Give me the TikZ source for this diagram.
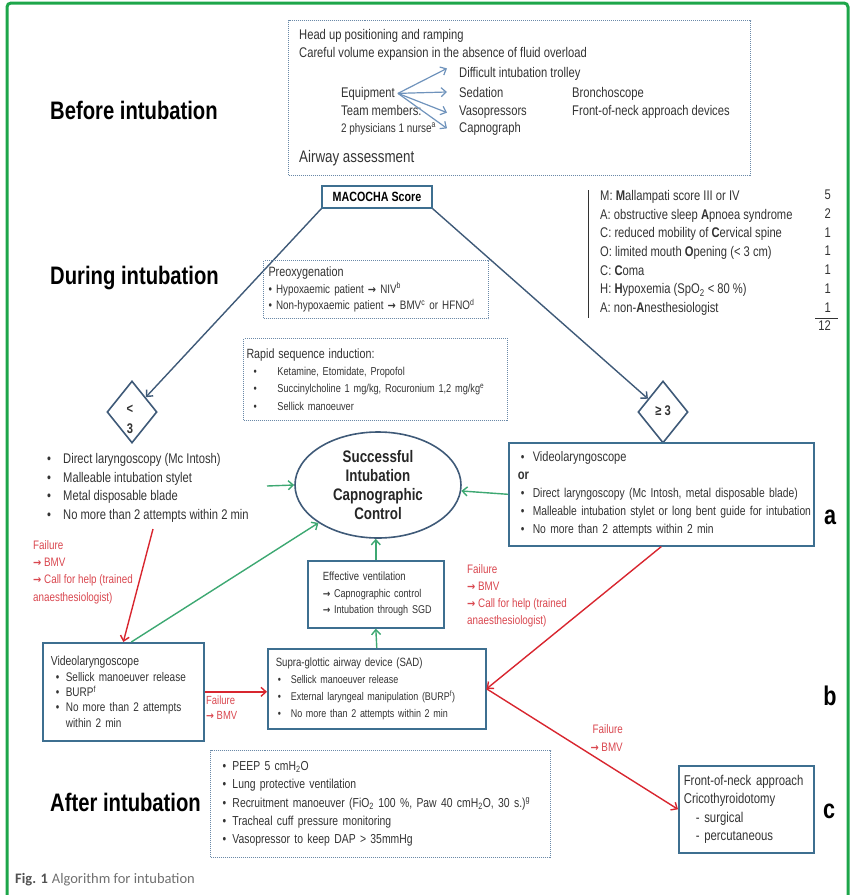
\documentclass[tikz,border=0pt]{standalone}
\usepackage{fontspec}
\usepackage{graphicx}
\setmainfont{Liberation Sans}[FakeStretch=0.8]
\newfontfamily\capfont{Carlito}
\newfontfamily\arrowfont{DejaVu Sans}
\usetikzlibrary{arrows.meta,shapes.geometric}
\definecolor{ink}{HTML}{333333}
\definecolor{framegreen}{HTML}{1DA64A}
\definecolor{boxblue}{HTML}{3E6F90}
\definecolor{dotblue}{HTML}{6A89A8}
\definecolor{equipblue}{HTML}{6F93BC}
\definecolor{okgreen}{HTML}{3DA872}
\definecolor{failred}{HTML}{D8262F}
\definecolor{failtxt}{HTML}{D9474F}
\definecolor{slate}{HTML}{3F5A78}
\newcommand\fsz[2]{\fontsize{#1}{#2}\selectfont}
\newcommand\blt[1]{\makebox[#1][l]{\textbullet}}
\newcommand\rarr{{\arrowfont\bfseries\scalebox{0.8}[0.9]{→}}}

\begin{document}
\begin{tikzpicture}[x=1pt,y=-1pt,
  every node/.style={text=ink,inner sep=0pt},
  arrowtip/.style={-{Straight Barb[length=5pt,width=9pt]}},
  solidbox/.style={draw=boxblue,line width=1.6pt,anchor=north west,align=left,inner ysep=0pt},
  dotbox/.style={draw=dotblue,densely dotted,line width=1pt,anchor=north west,align=left,inner ysep=0pt},
  okarrow/.style={arrowtip,draw=okgreen,line width=1.4pt},
  failarrow/.style={arrowtip,draw=failred,line width=1.4pt},
  fail/.style={text=failtxt,anchor=north west,align=left}]
\path[use as bounding box] (0,0) rectangle (852,895);
\draw[framegreen,line width=3pt,rounded corners=4pt] (7,895) -- (7,3) -- (848,3) -- (848,895);

\node[dotbox,minimum width=462pt,minimum height=155pt] (prep) at (288,20) {};
\node[anchor=base west,font=\fsz{14}{15}] (head) at (299,39) {Head up positioning and ramping};
\node[anchor=base west,font=\fsz{14}{15}] (vol) at (299,57) {Careful volume expansion in the absence of fluid overload};
\node[anchor=base west,font=\fsz{14}{15}] (trol) at (459,77) {Difficult intubation trolley};
\node[anchor=base west,font=\fsz{14}{15}] (equip) at (341,97) {Equipment};
\node[anchor=base west,font=\fsz{14}{15}] (sed) at (459,97) {Sedation};
\node[anchor=base west,font=\fsz{14}{15}] (bron) at (572,97) {Bronchoscope};
\node[anchor=base west,font=\fsz{14}{15}] (team) at (341,115) {Team members:};
\node[anchor=base west,font=\fsz{14}{15}] (vaso) at (459,115) {Vasopressors};
\node[anchor=base west,font=\fsz{14}{15}] (devs) at (572,115) {Front-of-neck approach devices};
\node[anchor=base west,font=\fsz{12.4}{15}] (phys) at (341,132) {2 physicians 1 nurse\textsuperscript{a}};
\node[anchor=base west,font=\fsz{14}{15}] (capno) at (459,132) {Capnograph};
\node[anchor=base west,font=\fsz{16.7}{18}] (airway) at (299,162) {Airway assessment};
\draw[arrowtip,draw=equipblue,line width=1.2pt] ([xshift=3pt]equip.east) -- ([xshift=-12pt,yshift=5pt]trol.west);
\draw[arrowtip,draw=equipblue,line width=1.2pt] ([xshift=3pt]equip.east) -- ([xshift=-12pt]sed.west);
\draw[arrowtip,draw=equipblue,line width=1.2pt] ([xshift=3pt]equip.east) -- ([xshift=-12pt,yshift=-1pt]vaso.west);
\draw[arrowtip,draw=equipblue,line width=1.2pt] ([xshift=3pt]equip.east) -- ([xshift=-12pt]capno.west);

\node[anchor=base west,font=\fsz{25.3}{27}\bfseries,text=black] (before) at (50,119) {Before intubation};
\node[anchor=base west,font=\fsz{25.3}{27}\bfseries,text=black] (during) at (50,284) {During intubation};
\node[anchor=base west,font=\fsz{25.3}{27}\bfseries,text=black] (after) at (50,811) {After intubation};

\node[draw=boxblue,line width=1.4pt,minimum width=110pt,minimum height=22pt,font=\fsz{13.4}{15}\bfseries,text=black] (mac) at (377,197) {MACOCHA Score};

\draw[ink,line width=0.8pt] (588,190) -- (588,318);
\node[anchor=north west,align=left,font=\fsz{14}{18.7}] (crit) at (600,190) {M: \textbf{M}allampati score III or IV\\
A: obstructive sleep \textbf{A}pnoea syndrome\\
C: reduced mobility of \textbf{C}ervical spine\\
O: limited mouth \textbf{O}pening (< 3 cm)\\
C: \textbf{C}oma\\
H: \textbf{H}ypoxemia (SpO\textsubscript{2} < 80 \%)\\
A: non-\textbf{A}nesthesiologist};
\node[anchor=north east,align=right,font=\fsz{14}{18.7}] (pts) at (831,190) {5\\2\\1\\1\\1\\1\\1\\12};
\draw[ink,line width=0.8pt] (815,318) -- (838,318);

\node[diamond,draw=slate,line width=1.6pt,minimum width=50pt,minimum height=62pt] (low) at (132,412) {};
\node[align=center,font=\fsz{14}{20}\bfseries] (lowtxt) at (130,419) {<\\3};
\node[diamond,draw=slate,line width=1.6pt,minimum width=50pt,minimum height=62pt] (high) at (663,412) {};
\node[font=\fsz{14}{15}\bfseries] (hightxt) at (663,411) {≥ 3};
\draw[arrowtip,draw=slate,line width=1.4pt] (mac.south west) -- (low);
\draw[arrowtip,draw=slate,line width=1.4pt] (mac.south east) -- (high);

\node[dotbox,minimum height=58pt,inner xsep=5pt,text width=215pt,font=\fsz{12.3}{16.5}] (preox) at (263,260) {{\fsz{13.5}{16.5}Preoxygenation}\\
\mbox{\textbullet{} Hypoxaemic patient \rarr{} NIV\textsuperscript{b}}\\
\mbox{\textbullet{} Non-hypoxaemic patient \rarr{} BMV\textsuperscript{c} or HFNO\textsuperscript{d}}};

\node[dotbox,minimum height=82pt,inner xsep=3pt,text width=258pt,font=\fsz{11.5}{17.3}] (rsi) at (243,338) {{\fsz{13.4}{17.3}Rapid sequence induction:}\\
\hspace*{7pt}\blt{24pt}Ketamine, Etomidate, Propofol\\
\mbox{\hspace*{7pt}\blt{24pt}Succinylcholine 1 mg/kg, Rocuronium 1,2 mg/kg\textsuperscript{e}}\\
\hspace*{7pt}\blt{24pt}Sellick manoeuver};

\node[anchor=north west,align=left,font=\fsz{14}{18.7}] (dlist) at (47,453) {\blt{16pt}Direct laryngoscopy (Mc Intosh)\\
\blt{16pt}Malleable intubation stylet\\
\blt{16pt}Metal disposable blade\\
\blt{16pt}No more than 2 attempts within 2 min};

\node[ellipse,draw=slate,line width=1.6pt,minimum width=166pt,minimum height=106pt,align=center,font=\fsz{16.7}{19}\bfseries,text=black!85] (ok) at (378,485) {Successful\\Intubation\\Capnographic\\Control};

\node[solidbox,minimum height=103pt,inner xsep=9pt,text width=287pt,font=\fsz{12.9}{18}] (vid) at (508,442) {\hspace*{3pt}\blt{12pt}{\fsz{13.8}{18}Videolaryngoscope}\\
{\fsz{14}{18}\bfseries or}\\
\mbox{\hspace*{3pt}\blt{12pt}Direct laryngoscopy (Mc Intosh, metal disposable blade)}\\
\mbox{\hspace*{3pt}\blt{12pt}Malleable intubation stylet or long bent guide for intubation}\\
\hspace*{3pt}\blt{12pt}No more than 2 attempts within 2 min};
\node[anchor=base,font=\fsz{27}{28}\bfseries,text=black] (la) at (830,524) {a};

\node[fail,font=\fsz{12.3}{17.3}] (fail1) at (33,540) {Failure\\\rarr{} BMV\\\rarr{} Call for help (trained\\anaesthesiologist)};
\node[fail,font=\fsz{12.3}{17}] (fail2) at (467,564) {Failure\\\rarr{} BMV\\\rarr{} Call for help (trained\\anaesthesiologist)};

\node[solidbox,minimum height=67pt,inner xsep=15pt,text width=106pt,font=\fsz{11.3}{16.5}] (vent) at (307,560) {{\fsz{11.9}{16.5}Effective ventilation}\\\mbox{\rarr{} Capnographic control}\\\mbox{\rarr{} Intubation through SGD}};

\node[solidbox,minimum height=98pt,inner xsep=8pt,text width=145pt,font=\fsz{12.5}{15.3}] (vlb) at (42,642) {{\fsz{13}{15.3}Videolaryngoscope}\\
\hspace*{5pt}\blt{10pt}Sellick manoeuver release\\
\hspace*{5pt}\blt{10pt}BURP\textsuperscript{f}\\
\hspace*{5pt}\blt{10pt}No more than 2 attempts\\
\hspace*{15pt}within 2 min};

\node[solidbox,minimum height=80pt,inner xsep=8pt,text width=202pt,font=\fsz{11.2}{16.7}] (sad) at (267,648) {{\fsz{12}{16.7}Supra-glottic airway device (SAD)}\\
\hspace*{2pt}\blt{13pt}Sellick manoeuver release\\
\mbox{\hspace*{2pt}\blt{13pt}External laryngeal manipulation (BURP\textsuperscript{f})}\\
\mbox{\hspace*{2pt}\blt{13pt}No more than 2 attempts within 2 min}};
\node[anchor=base,font=\fsz{27}{28}\bfseries,text=black] (lb) at (830,705) {b};

\node[fail,font=\fsz{11.8}{15}] (fail3) at (206,696) {Failure\\\rarr{} BMV};
\node[fail,anchor=north east,align=right,font=\fsz{12.3}{18}] (fail4) at (623,724) {Failure\\\rarr{} BMV};

\node[dotbox,minimum height=107pt,inner xsep=12pt,text width=316pt,font=\fsz{13}{18.25}] (post) at (210,750) {\blt{10pt}PEEP 5 cmH\textsubscript{2}O\\
\blt{10pt}Lung protective ventilation\\
\mbox{\blt{10pt}Recruitment manoeuver (FiO\textsubscript{2} 100 \%, Paw 40 cmH\textsubscript{2}O, 30 s.)\textsuperscript{g}}\\
\blt{10pt}Tracheal cuff pressure monitoring\\
\blt{10pt}Vasopressor to keep DAP > 35mmHg};

\node[solidbox,minimum height=87pt,inner xsep=5pt,text width=125pt,font=\fsz{14.2}{18.3}] (neck) at (678,765) {\mbox{Front-of-neck approach}\\Cricothyroidotomy\\
\hspace*{12pt}- surgical\\
\hspace*{12pt}- percutaneous};
\node[anchor=base,font=\fsz{27}{28}\bfseries,text=black] (lc) at (829,818) {c};

\coordinate (dl1) at (153,529);
\coordinate (dl2) at (267,486);
\draw[failarrow] (dl1) -- (vlb.north);
\draw[okarrow] ([xshift=8pt]vlb.north) -- (ok);
\draw[okarrow] (dl2) -- (ok.west);
\draw[okarrow] (vid.west) -- (ok);
\draw[okarrow] (vent.north) -- (vent.north |- ok.south);
\draw[okarrow] (sad.north) -- (vent.south);
\draw[failarrow] (vlb.east) -- (vlb.east -| sad.west);
\draw[failarrow] (vid.south) -- (sad.east);
\draw[failarrow] (sad.east) -- (neck.west);

\node[anchor=base west,font=\capfont\fsz{14.5}{16},text=ink!85] (cap) at (15,883) {\textbf{Fig. 1}\hspace{4pt}{\color{ink!70}Algorithm for intubation}};
\end{tikzpicture}
\end{document}
